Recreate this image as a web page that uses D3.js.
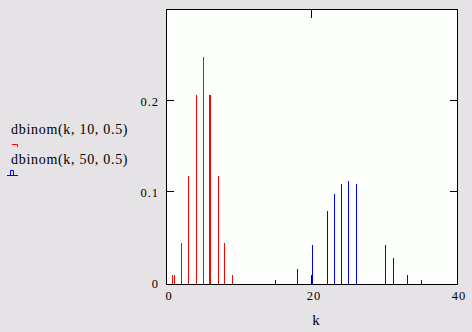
<!DOCTYPE html>
<html>
<head>
<meta charset="utf-8">
<script src="https://cdn.jsdelivr.net/npm/d3@7"></script>
<style>
  html, body { margin: 0; padding: 0; background: #e5e3e5; }
  svg { display: block; }
  text { font-family: "Liberation Serif", "Times New Roman", serif; fill: #000; }
</style>
</head>
<body>
<div id="chart"></div>
<script>
// Positions of the stems as they show on the picture (k) and their heights
const redK = [0.83, 1.10, 2.07, 3.03, 4.14, 5.10, 5.93, 6.07, 7.17, 8.0, 9.10];
const redP = [0.0082, 0.0082, 0.0434, 0.117, 0.206, 0.248, 0.206, 0.206, 0.117, 0.0434, 0.0082];
const blueK = [15.03, 18.07, 20.14, 22.21, 23.17, 24.14, 25.1, 26.2, 30.2, 31.31, 33.24, 35.17];
const blueP = [0.0027, 0.0148, 0.0412, 0.0786, 0.0973, 0.108, 0.1115, 0.108, 0.0412, 0.0269, 0.0082, 0.0027];
const xTicks = [0, 20, 40];
const yTicks = [0, 0.1, 0.2];
const legendLabels = ["dbinom(k, 10, 0.5)", "dbinom(k, 50, 0.5)"];

const width = 472, height = 332;

const svg = d3.select('#chart')
    .append('svg')
    .attr('width', width)
    .attr('height', height);

const x = d3.scaleLinear().domain([0, 40]).range([166.5, 456.5]);
const y = d3.scaleLinear().domain([0, 0.3]).range([282.5, 9.5]);

const crisp = v => Math.round(v - 0.5) + 0.5;

// plot area
svg.append('rect')
    .attr('x', 166.5).attr('y', 9.5)
    .attr('width', 291).attr('height', 275)
    .attr('fill', '#fcfffc')
    .attr('stroke', 'none');

// stems
function stems(ks, ps, color) {
    svg.append('g')
        .selectAll('line')
        .data(ks.map((k, i) => ({ k, p: ps[i] })))
        .enter()
        .append('line')
        .attr('x1', d => crisp(x(d.k)))
        .attr('x2', d => crisp(x(d.k)))
        .attr('y1', 284)
        .attr('y2', d => Math.round(y(d.p)))
        .attr('stroke', color)
        .attr('stroke-width', 1);
}
stems(redK, redP, '#ff0000');
stems(blueK, blueP, '#0000ff');

// inward ticks
const tickG = svg.append('g').attr('stroke', '#000').attr('stroke-width', 1);
xTicks.filter(t => t > 0 && t < 40).forEach(t => {
    const xx = crisp(x(t));
    tickG.append('line').attr('x1', xx).attr('x2', xx).attr('y1', 275).attr('y2', 284);
    tickG.append('line').attr('x1', xx).attr('x2', xx).attr('y1', 10).attr('y2', 18);
});
yTicks.filter(t => t > 0).forEach(t => {
    const yy = crisp(y(t));
    tickG.append('line').attr('x1', 167).attr('x2', 174).attr('y1', yy).attr('y2', yy);
    tickG.append('line').attr('x1', 450).attr('x2', 457).attr('y1', yy).attr('y2', yy);
});

// frame
svg.append('rect')
    .attr('x', 166.5).attr('y', 9.5)
    .attr('width', 291).attr('height', 275)
    .attr('fill', 'none')
    .attr('stroke', '#000')
    .attr('stroke-width', 1);

// y tick labels
svg.selectAll('text.ylab')
    .data(yTicks)
    .enter()
    .append('text')
    .attr('class', 'ylab')
    .attr('x', 159)
    .attr('y', d => y(d) + 5.5)
    .attr('text-anchor', 'end')
    .style('font-size', '12.5px')
    .style('letter-spacing', '1px')
    .text(d => d === 0 ? '0' : d3.format('.1f')(d));

// x tick labels
svg.selectAll('text.xlab')
    .data(xTicks)
    .enter()
    .append('text')
    .attr('class', 'xlab')
    .attr('x', d => x(d) + 2.5)
    .attr('y', 300)
    .attr('text-anchor', 'middle')
    .style('font-size', '12.5px')
    .style('letter-spacing', '1px')
    .text(d => d);

// axis title
svg.append('text')
    .attr('x', 316)
    .attr('y', 325)
    .attr('text-anchor', 'middle')
    .style('font-size', '15px')
    .text('k');

// legend
legendLabels.forEach((label, i) => {
    svg.append('text')
        .attr('x', 11)
        .attr('y', 134 + i * 30)
        .style('font-size', '14px')
        .style('letter-spacing', '0.7px')
        .text(label);
});
svg.append('path')
    .attr('d', 'M12,144.5H17.5V147')
    .attr('fill', 'none')
    .attr('stroke', '#ff0000');
svg.append('path')
    .attr('d', 'M7,175.5H18M10.5,175.5V170.5H13.5V175.5')
    .attr('fill', 'none')
    .attr('stroke', '#0000ff');
</script>
</body>
</html>
